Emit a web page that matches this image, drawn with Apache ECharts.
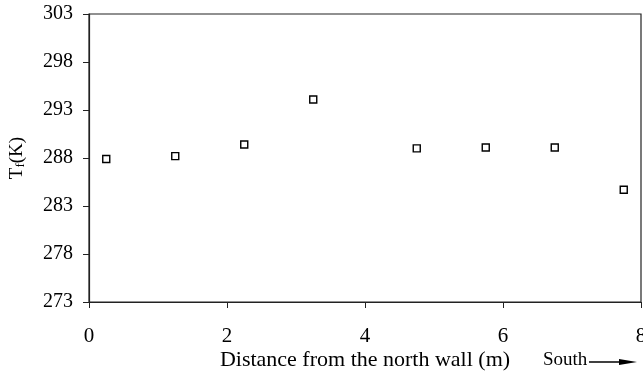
<!DOCTYPE html>
<html>
<head>
<meta charset="utf-8">
<script src="https://cdn.jsdelivr.net/npm/echarts@6/dist/echarts.min.js"></script>
<style>
  html, body { margin: 0; padding: 0; background: #fff; }
  #main { width: 643px; height: 385px; }
</style>
</head>
<body>
<div id="main"></div>
<script>
  // distance from the north wall (m)
  var distance = [0.25, 1.25, 2.25, 3.25, 4.75, 5.75, 6.75, 7.75];
  // floor temperature Tf (K)
  var tempK = [287.9, 288.2, 289.4, 294.1, 289.0, 289.1, 289.1, 284.7];
  var yTicks = [273, 278, 283, 288, 293, 298, 303];
  var xTicks = [0, 2, 4, 6, 8];

  var font = 'Liberation Serif';
  var points = [];
  for (var i = 0; i < distance.length; i++) {
    points.push([distance[i], tempK[i]]);
  }

  var myChart = echarts.init(document.getElementById('main'));
  myChart.setOption({
    animation: false,
    backgroundColor: '#fff',
    grid: {
      left: 89, top: 14, right: 2, bottom: 83,
      outerBoundsMode: 'none',
      containLabel: false,
      show: true, borderColor: '#222', borderWidth: 1.2, backgroundColor: 'transparent'
    },
    xAxis: {
      type: 'value',
      min: 0, max: 8, interval: 2,
      name: 'Distance from the north wall (m)',
      nameLocation: 'middle',
      nameGap: 47,
      nameMoveOverlap: false,
      nameTextStyle: { fontFamily: font, fontSize: 22, color: '#000' },
      axisLine: { show: true, lineStyle: { color: '#222', width: 1.2 } },
      axisTick: { show: true, length: 6, inside: false, customValues: xTicks, lineStyle: { color: '#222' } },
      axisLabel: { customValues: xTicks, margin: 24, fontFamily: font, fontSize: 21, color: '#000' },
      splitLine: { show: false }
    },
    yAxis: {
      type: 'value',
      min: 273, max: 303,
      name: '{t|T}{s|f}{t|(K)}',
      nameLocation: 'middle',
      nameRotate: 90,
      nameGap: 62,
      nameMoveOverlap: false,
      nameTextStyle: {
        rich: {
          t: { fontFamily: font, fontSize: 19, color: '#000' },
          s: { fontFamily: font, fontSize: 13, color: '#000', verticalAlign: 'bottom', padding: [6, 0, 0, 0] }
        }
      },
      axisLine: { show: true, lineStyle: { color: '#222', width: 1.2 } },
      axisTick: { show: true, length: 6, inside: false, customValues: yTicks, lineStyle: { color: '#222' } },
      axisLabel: { customValues: yTicks, margin: 16, fontFamily: font, fontSize: 20, color: '#000' },
      splitLine: { show: false }
    },
    graphic: [
      {
        type: 'text', left: 543, top: 351,
        style: { text: 'South', fontFamily: font, fontSize: 19, fill: '#000' }
      },
      {
        type: 'line', shape: { x1: 589, y1: 362, x2: 626, y2: 362 },
        style: { stroke: '#000', lineWidth: 1.3 }
      },
      {
        type: 'polygon', shape: { points: [[619, 359], [637, 362], [619, 365]] },
        style: { fill: '#000' }
      }
    ],
    series: [{
      type: 'scatter',
      data: points,
      symbol: 'rect',
      symbolSize: 7,
      itemStyle: { color: '#fff', borderColor: '#000', borderWidth: 1.4, opacity: 1 }
    }]
  });
</script>
</body>
</html>
